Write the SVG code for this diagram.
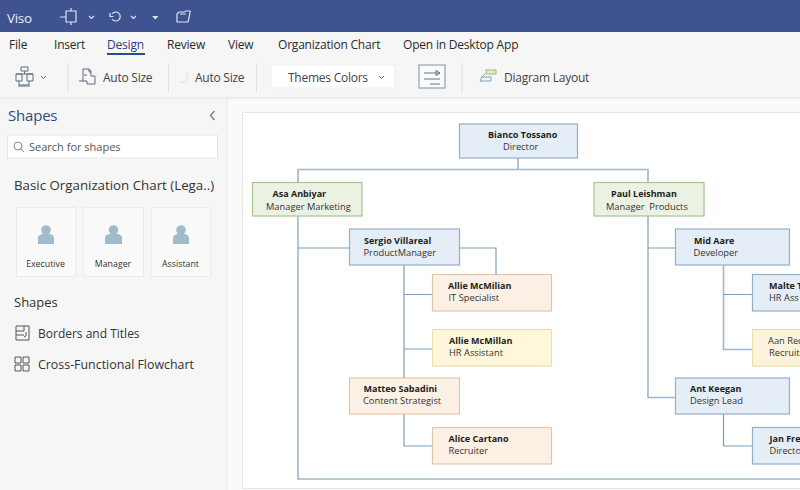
<svg xmlns="http://www.w3.org/2000/svg" width="800" height="490" viewBox="0 0 800 490">
<style>
text{font-family:"Open Sans","Liberation Sans",sans-serif;fill:#2b2b2b}
.tab{font-size:12px;letter-spacing:-.2px}
.rb{font-size:12px;letter-spacing:-.25px;fill:#444}
.side{font-size:13px;fill:#333}
.lab{font-size:8.800px;fill:#333;text-anchor:middle}
.n{font-size:9px;font-weight:700;fill:#1c1c1c}
.r{font-size:9.300px;fill:#333}
.blue{fill:#e5eef7;stroke:#94afc8;stroke-width:1.2}
.green{fill:#ebf2e3;stroke:#a6c391;stroke-width:1.2}
.peach{fill:#fdf0e5;stroke:#e3c6aa;stroke-width:1.2}
.yellow{fill:#fef7dc;stroke:#ecdfa5;stroke-width:1.2}
.ic{fill:none;stroke:#5f6a78;stroke-width:1}
.w{fill:none;stroke:#dce3f0;stroke-width:1.2}
.sep{stroke:#e2e2e2;stroke-width:1}
.card{fill:#fafafa;stroke:#ececec}
.p{fill:#a0bccb}
.cn{fill:none;stroke:#7f9db8;stroke-width:1.2}
.ct{fill:none;stroke:#9fb5c9;stroke-width:1.6}
</style>
<rect width="800" height="490" fill="#fafafa"/>
<rect width="800" height="32" fill="#3e5390"/>
<rect y="32" width="800" height="67" fill="#f6f6f6"/>
<rect y="97" width="800" height="2" fill="#ececec"/>
<rect y="99" width="227" height="391" fill="#f6f6f6"/>
<rect x="226.500" y="99" width="1" height="391" fill="#e6e6e6"/>
<g id="titlebar">
<text x="7" y="23" font-size="13.500" style="fill:#e8ecf6;letter-spacing:-.3px">Viso</text>
<path class="w" d="M60 17H66M66 11H76V22H66ZM71 8V11M71 22V25"/>
<path class="w" d="M89 16l2.500 2.500 2.500-2.500M131 16l2.500 2.500 2.500-2.500"/>
<path class="w" d="M112 14a4.500 4.500 0 1 1 0 5M110 13v3.500h3.500"/>
<path d="M152 16h6.500l-3.250 3.500z" fill="#dce3f0"/>
<path class="w" d="M177 22V14l2-2h5l2-1h4v2l-2 9zM180 14h6"/>
</g>
<g id="tabs">
<text class="tab" x="9" y="49">File</text>
<text class="tab" x="54" y="49">Insert</text>
<text class="tab" x="107" y="49" style="fill:#2a3f78">Design</text>
<rect x="107" y="53" width="38" height="2" fill="#2f4a86"/>
<text class="tab" x="167" y="49">Review</text>
<text class="tab" x="228" y="49">View</text>
<text class="tab" x="278" y="49">Organization Chart</text>
<text class="tab" x="403" y="49">Open in Desktop App</text>
</g>
<g id="ribbon">
<path class="ic" d="M21 67h7v4h-7zM24.500 71v3M16 74h17M16 74h6v7h-6zM27 74h6v7h-6zM19 81v4h10v-4M18 86h12"/>
<path class="ic" d="M41 76l2.500 2.500 2.500-2.500"/>
<line class="sep" x1="68" y1="63" x2="68" y2="93"/>
<path class="ic" d="M83 69h6l2 2v5h4v8h-8v-3h-4zM89 69v3h2M84 75h3M79 81h4"/>
<text class="rb" x="103" y="82">Auto Size</text>
<line class="sep" x1="168.500" y1="63" x2="168.500" y2="93"/>
<path d="M187 72v10h-7" fill="none" stroke="#e0e0e0"/>
<text class="rb" x="195" y="82">Auto Size</text>
<line class="sep" x1="256.500" y1="63" x2="256.500" y2="93"/>
<rect x="271" y="65" width="124" height="23" fill="#fff" stroke="#eeeeee"/>
<text class="rb" x="288" y="82">Themes Colors</text>
<path class="ic" d="M379 76l2.500 2.500 2.500-2.500"/>
<rect x="419" y="65" width="26" height="23" fill="#fafafa" stroke="#8ea3b8" stroke-width="1.200"/>
<path d="M424 73h16M436 70.500l4 2.500-4 2.500zM424 79h16M430 84h10" fill="none" stroke="#5f7488"/>
<line class="sep" x1="462" y1="63" x2="462" y2="93"/>
<rect x="486" y="70" width="10" height="4" fill="#dfe9c9" stroke="#9dba7c"/>
<path d="M485 74l-3 3h-1v0M482 77h9v4h-11z" fill="none" stroke="#7f9db8"/>
<text class="rb" x="504" y="82">Diagram Layout</text>
</g>
<g id="sidebar">
<text x="8" y="121" font-size="15" style="fill:#2f4a86;letter-spacing:-.2px">Shapes</text>
<path d="M214.500 111l-4 4.500 4 4.500" fill="none" stroke="#777" stroke-width="1.300"/>
<rect x="7.500" y="135" width="210" height="23" fill="#fff" stroke="#e6e6e6"/>
<circle cx="18" cy="146" r="4" class="ic" style="stroke:#888"/>
<path d="M21 149l3 3" class="ic" style="stroke:#888"/>
<text x="29" y="151" font-size="11" style="fill:#555">Search for shapes</text>
<text class="side" x="14" y="190" style="font-size:13.300px">Basic Organization Chart (Lega..)</text>
<rect class="card" x="16.500" y="207.500" width="59" height="69"/>
<rect class="card" x="83.500" y="207.500" width="60" height="69"/>
<rect class="card" x="151.500" y="207.500" width="59" height="69"/>
<g class="p"><circle cx="46" cy="230" r="4.800"/><path d="M38 244v-6q0-3 4-4h8q4 1 4 4v6z"/></g>
<g class="p"><circle cx="113.500" cy="230" r="4.800"/><path d="M105 244v-6q0-3 4-4h9q4 1 4 4v6z"/></g>
<g class="p"><circle cx="181" cy="230" r="4.800"/><path d="M173 244v-6q0-3 4-4h8q4 1 4 4v6z"/></g>
<text class="lab" x="45.500" y="267">Executive</text>
<text class="lab" x="113" y="267">Manager</text>
<text class="lab" x="180.500" y="267">Assistant</text>
<text class="side" x="14" y="306.500">Shapes</text>
<path d="M16 326h13v14h-13zM16 331h8M16 335h8M24 326v5M26 332v4l-2 1" fill="none" stroke="#555"/>
<text class="side" x="38" y="337.500" style="font-size:12px">Borders and Titles</text>
<path d="M15 357h6v6h-6zM23 357h6v6h-6zM15 365h6v6h-6zM23 365h6v6h-6z" fill="none" stroke="#555"/>
<text class="side" x="38" y="369" style="font-size:12.400px">Cross-Functional Flowchart</text>
</g>
<rect x="242.500" y="112.500" width="570" height="376" fill="#fff" stroke="#e6e6e6"/>
<g id="connectors">
<path class="ct" d="M518 158V169.500M298 182V169.500H648V182M298 216V479H800M648 216V397.500H676"/>
<path class="ct" d="M404 265V378M723.500 265V349.500H752"/>
<path class="cn" d="M298 248H349M460 248H496V274.500M404 294.500H432M404 349H432M404 414V446H432M648 248H676M723.500 294.500H752M723.500 414V446H752"/>
</g>
<g id="bianco"><rect class="blue" x="459.500" y="124" width="118" height="34"/><text class="n" x="488" y="138">Bianco Tossano</text><text class="r" x="503" y="150">Director</text></g>
<g id="asa"><rect class="green" x="252.500" y="182.500" width="109.500" height="33.500"/><text class="n" x="272.500" y="197">Asa Anbiyar</text><text class="r" x="266" y="209.500">Manager Marketing</text></g>
<g id="paul"><rect class="green" x="594" y="182.500" width="110" height="33.500"/><text class="n" x="611" y="197">Paul Leishman</text><text class="r" x="606" y="209.500" xml:space="preserve">Manager  Products</text></g>
<g id="sergio"><rect class="blue" x="349.500" y="229" width="110" height="36"/><text class="n" x="364" y="243.500">Sergio Villareal</text><text class="r" x="363.500" y="255.500">ProductManager</text></g>
<g id="allie1"><rect class="peach" x="432.500" y="274.500" width="119" height="36.500"/><text class="n" x="448" y="289">Allie McMilian</text><text class="r" x="448.500" y="301">IT Specialist</text></g>
<g id="allie2"><rect class="yellow" x="432.500" y="329.500" width="119" height="36.500"/><text class="n" x="449" y="344">Allie McMillan</text><text class="r" x="449" y="356">HR Assistant</text></g>
<g id="matteo"><rect class="peach" x="349.500" y="378" width="110" height="36"/><text class="n" x="363.500" y="392">Matteo Sabadini</text><text class="r" x="363" y="404">Content Strategist</text></g>
<g id="alice"><rect class="peach" x="432.500" y="427.500" width="119" height="36.500"/><text class="n" x="448.500" y="441.500">Alice Cartano</text><text class="r" x="448.500" y="453.500">Recruiter</text></g>
<g id="mid"><rect class="blue" x="675.500" y="229" width="114" height="36"/><text class="n" x="694" y="243.500">Mid Aare</text><text class="r" x="693.500" y="255.500">Developer</text></g>
<g id="malte"><rect class="blue" x="752.500" y="274.500" width="60" height="36.500"/><text class="n" x="769" y="289">Malte T</text><text class="r" x="769" y="301">HR Ass</text></g>
<g id="aan"><rect class="yellow" x="752.500" y="329.500" width="60" height="36.500" style="fill:#fdf3dc"/><text class="r" x="768" y="344">Aan Rec</text><text class="r" x="769" y="356">Recruite</text></g>
<g id="ant"><rect class="blue" x="675.500" y="378" width="114" height="36"/><text class="n" x="690" y="392">Ant Keegan</text><text class="r" x="690" y="404">Design Lead</text></g>
<g id="jan"><rect class="blue" x="752.500" y="427.500" width="60" height="36.500"/><text class="n" x="769.500" y="441.500">Jan Fre</text><text class="r" x="769.500" y="453.500">Directo</text></g>
</svg>
